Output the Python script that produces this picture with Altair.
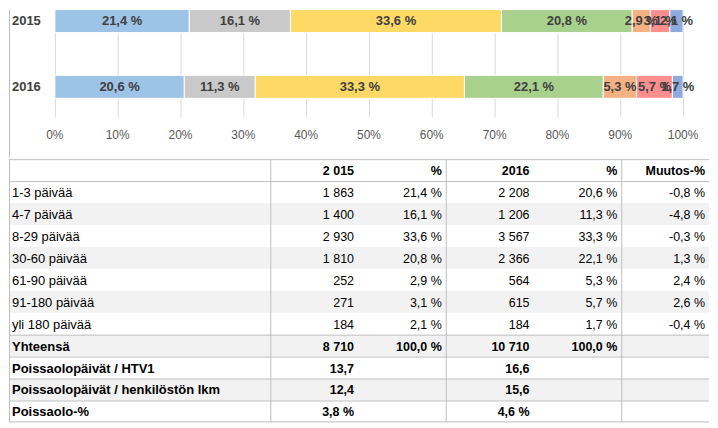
import altair as alt
import pandas as pd

# ---------------- data ----------------
years = ["2015", "2016"]
categories = ["1-3 päivää", "4-7 päivää", "8-29 päivää", "30-60 päivää",
              "61-90 päivää", "91-180 päivää", "yli 180 päivää"]
days_2015 = [1863, 1400, 2930, 1810, 252, 271, 184]
pct_2015 = [21.4, 16.1, 33.6, 20.8, 2.9, 3.1, 2.1]
days_2016 = [2208, 1206, 3567, 2366, 564, 615, 184]
pct_2016 = [20.6, 11.3, 33.3, 22.1, 5.3, 5.7, 1.7]
change_pct = [-0.8, -4.8, -0.3, 1.3, 2.4, 2.6, -0.4]
total_days = [8710, 10710]
total_pct = [100.0, 100.0]
htv_days = [13.7, 16.6]
staff_days = [12.4, 15.6]
absence_pct = [3.8, 4.6]
x_ticks = [0, 10, 20, 30, 40, 50, 60, 70, 80, 90, 100]
header_texts = ["2 015", "%", "2016", "%", "Muutos-%"]
summary_rows = ["Yhteensä", "Poissaolopäivät / HTV1",
                "Poissaolopäivät / henkilöstön lkm", "Poissaolo-%"]
bar_colors = ["#9DC3E6", "#C9C9C9", "#FFD966", "#A9D18E",
              "#F4B183", "#FF8F8F", "#8FAADC"]

# ---------------- helpers ----------------
def fi_dec(v):
    return f"{v:.1f}".replace(".", ",")

def fi_int(v):
    return f"{v:,}".replace(",", " ")

FONT = "Liberation Sans"
W = 702
CH = 148
TH = 264
GRID = "#D9D9D9"
LINE = "#BFBFBF"

# ---------------- top: stacked bars ----------------
bars_df = pd.DataFrame([
    {"year": y, "cat": c, "idx": i, "pct": p, "label": fi_dec(p) + " %"}
    for y, pcts in zip(years, [pct_2015, pct_2016])
    for i, (c, p) in enumerate(zip(categories, pcts))
])
ticks_df = pd.DataFrame({"t": x_ticks, "label": [f"{t}%" for t in x_ticks]})

xs = alt.Scale(domain=[0, 100], range=[46, 676])
ys = alt.Scale(domain=years, range=[0, 89], paddingInner=0.65, paddingOuter=0)

grid = alt.Chart(ticks_df).mark_rule(color=GRID, strokeWidth=1, xOffset=0.5).encode(
    x=alt.X("t:Q", scale=xs, axis=None), y=alt.value(0), y2=alt.value(108))
tick_text = alt.Chart(ticks_df).mark_text(font=FONT, fontSize=12, color="#595959").encode(
    x=alt.X("t:Q", scale=xs, axis=None), y=alt.value(126), text="label:N")

base_bars = alt.Chart(bars_df).transform_stack(
    stack="pct", groupby=["year"], as_=["x0", "x1"],
    sort=[alt.SortField(field="idx", order="ascending")]
).transform_calculate(mid="(datum.x0 + datum.x1) / 2")

bars = base_bars.mark_bar(stroke="white", strokeWidth=1).encode(
    x=alt.X("x0:Q", scale=xs, axis=None), x2="x1:Q",
    y=alt.Y("year:N", scale=ys, axis=None),
    color=alt.Color("cat:N", scale=alt.Scale(domain=categories, range=bar_colors), legend=None))
bar_labels = base_bars.mark_text(font=FONT, fontSize=13, fontWeight="bold", color="#404040").encode(
    x=alt.X("mid:Q", scale=xs, axis=None),
    y=alt.Y("year:N", scale=ys, axis=None), text="label:N")
year_labels = alt.Chart(pd.DataFrame({"year": years})).mark_text(
    font=FONT, fontSize=13, fontWeight="bold", color="#404040", align="left").encode(
    x=alt.value(3), y=alt.Y("year:N", scale=ys, axis=None), text="year:N")
left_border_top = alt.Chart(pd.DataFrame({"a": [0]})).mark_rule(color=LINE).encode(
    x=alt.value(0.5), y=alt.value(0), y2=alt.value(CH))

top = alt.layer(grid, bars, bar_labels, year_labels, tick_text, left_border_top).properties(
    width=W, height=CH)

# ---------------- bottom: table ----------------
col_keys = ["c2015", "p2015", "c2016", "p2016", "chg"]
row_keys = ["header"] + categories + summary_rows
bold_rows = ["header"] + summary_rows

cells = []
label_cells = []
for r in row_keys:
    label_cells.append({"row": r, "text": "" if r == "header" else r, "bold": r in bold_rows})
for k, t in zip(col_keys, header_texts):
    cells.append({"row": "header", "col": k, "text": t, "bold": True})
for i, c in enumerate(categories):
    vals = [fi_int(days_2015[i]), fi_dec(pct_2015[i]) + " %",
            fi_int(days_2016[i]), fi_dec(pct_2016[i]) + " %",
            fi_dec(change_pct[i]) + " %"]
    for k, t in zip(col_keys, vals):
        cells.append({"row": c, "col": k, "text": t, "bold": False})
summary_vals = [
    [fi_int(total_days[0]), fi_dec(total_pct[0]) + " %", fi_int(total_days[1]), fi_dec(total_pct[1]) + " %", ""],
    [fi_dec(htv_days[0]), "", fi_dec(htv_days[1]), "", ""],
    [fi_dec(staff_days[0]), "", fi_dec(staff_days[1]), "", ""],
    [fi_dec(absence_pct[0]) + " %", "", fi_dec(absence_pct[1]) + " %", "", ""],
]
for r, vals in zip(summary_rows, summary_vals):
    for k, t in zip(col_keys, vals):
        cells.append({"row": r, "col": k, "text": t, "bold": True})

cells_df = pd.DataFrame(cells)
labels_df = pd.DataFrame(label_cells)

ys_t = alt.Scale(domain=row_keys, range=[0, TH], paddingInner=0, paddingOuter=0)
xs_t = alt.Scale(domain=col_keys, range=[262, W], paddingInner=0, paddingOuter=0)

shade_rows = ["4-7 päivää", "30-60 päivää", "91-180 päivää", "Yhteensä",
              "Poissaolopäivät / henkilöstön lkm"]
shade = alt.Chart(pd.DataFrame({"row": shade_rows})).mark_rect(color="#F2F2F2").encode(
    y=alt.Y("row:N", scale=ys_t, axis=None), x=alt.value(0), x2=alt.value(W))

hline_rows = ["header", "1-3 päivää"] + summary_rows
hlines = alt.Chart(pd.DataFrame({"row": hline_rows})).mark_rule(color=LINE, yOffset=0.5).encode(
    y=alt.Y("row:N", scale=ys_t, axis=None, bandPosition=0), x=alt.value(0), x2=alt.value(W))
bottom_line = alt.Chart(pd.DataFrame({"a": [0]})).mark_rule(color=LINE).encode(
    y=alt.value(TH - 0.5), x=alt.value(0), x2=alt.value(W))

vline_cols = ["c2015", "c2016", "chg"]
vlines = alt.Chart(pd.DataFrame({"col": vline_cols})).mark_rule(color=LINE, xOffset=0.5).encode(
    x=alt.X("col:N", scale=xs_t, axis=None, bandPosition=0), y=alt.value(0), y2=alt.value(TH))
left_border_tab = alt.Chart(pd.DataFrame({"a": [0]})).mark_rule(color=LINE).encode(
    x=alt.value(0.5), y=alt.value(0), y2=alt.value(TH))

def label_layer(bold):
    return alt.Chart(labels_df).transform_filter(
        alt.datum.bold == bold
    ).mark_text(font=FONT, fontSize=13, align="left", color="#000000", dy=1,
                fontWeight="bold" if bold else "normal").encode(
        x=alt.value(3), y=alt.Y("row:N", scale=ys_t, axis=None), text="text:N")

def value_layer(bold):
    return alt.Chart(cells_df).transform_filter(
        alt.datum.bold == bold
    ).mark_text(font=FONT, fontSize=12.5, align="right", color="#000000", dx=-4, dy=1,
                fontWeight="bold" if bold else "normal").encode(
        x=alt.X("col:N", scale=xs_t, axis=None, bandPosition=1),
        y=alt.Y("row:N", scale=ys_t, axis=None), text="text:N")

table = alt.layer(shade, hlines, bottom_line, vlines, left_border_tab,
                  label_layer(False), label_layer(True),
                  value_layer(False), value_layer(True)).properties(width=W, height=TH)

chart = alt.vconcat(top, table, spacing=0).properties(
    padding=0, background="white"
).configure_view(stroke=None)

chart.save("out.html", embed_options={"renderer": "svg", "actions": False})
